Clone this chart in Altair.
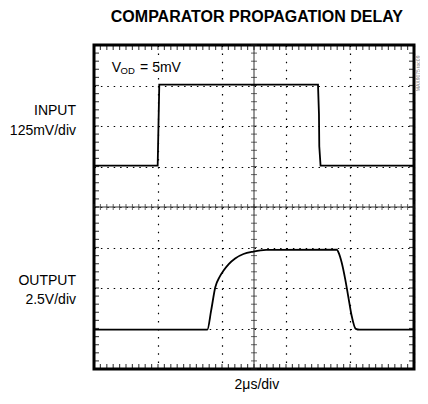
import altair as alt
import pandas as pd
import numpy as np

# ---- data (x in divisions 0..10, y in divisions 0..8) ----
input_x = [0.0, 1.99, 2.04, 7.0, 7.03, 7.04, 7.08, 10.0]
input_y = [5.02, 5.02, 7.02, 7.02, 6.3, 5.5, 5.02, 5.02]

output_x = [0.0, 3.54, 3.66, 3.79, 3.93, 4.05, 4.21, 4.41, 4.67, 4.98, 5.38, 7.59,
            7.64, 7.74, 7.85, 7.95, 8.05, 8.18, 8.30, 10.0]
output_y = [0.97, 0.97, 1.44, 2.02, 2.28, 2.43, 2.59, 2.73, 2.84, 2.90, 2.94, 2.95,
            2.88, 2.63, 2.22, 1.77, 1.32, 0.99, 0.97, 0.97]

major_x = list(range(0, 11))
major_y = list(range(0, 9))
minor_x = [round(v, 1) for v in np.arange(0, 10.01, 0.2)]
minor_y = [round(v, 1) for v in np.arange(0, 8.01, 0.2)]

left_labels = ["INPUT", "125mV/div", "OUTPUT", "2.5V/div"]
left_label_y = [6.38, 5.88, 2.17, 1.70]

title_text = "COMPARATOR PROPAGATION DELAY"
x_label = "2\u03bcs/div"
note_text = "MAX9075 toc09"

FONT = "Liberation Sans, Arial, Helvetica, sans-serif"

xs = alt.Scale(domain=[0, 10], nice=False, zero=False)
ys = alt.Scale(domain=[0, 8], nice=False, zero=False)

xaxis = alt.Axis(values=major_x, grid=True, gridDash=[1.5, 6.6], gridColor="#000",
                 gridWidth=1.2, domain=False, ticks=False, labels=False, title=None)
yaxis = alt.Axis(values=major_y, grid=True, gridDash=[1.5, 4.9], gridColor="#000",
                 gridWidth=1.2, domain=False, ticks=False, labels=False, title=None)

grid_df = pd.DataFrame({"x": [0, 10], "y": [0, 8]})
grid = alt.Chart(grid_df).mark_point(opacity=0).encode(
    x=alt.X("x:Q", scale=xs, axis=xaxis),
    y=alt.Y("y:Q", scale=ys, axis=yaxis),
)

center = alt.Chart(pd.DataFrame({"x": [5.0], "y": [4.0]}))
vcenter = center.mark_rule(color="#333", strokeWidth=1).encode(x=alt.X("x:Q", scale=xs))
hcenter = center.mark_rule(color="#333", strokeWidth=1).encode(y=alt.Y("y:Q", scale=ys))

mx = pd.DataFrame({"x": minor_x})
my = pd.DataFrame({"y": minor_y})

ctick_x = alt.Chart(mx).transform_calculate(y="4").mark_tick(
    orient="vertical", size=6, thickness=1, color="#222").encode(
    x=alt.X("x:Q", scale=xs), y=alt.Y("y:Q", scale=ys))
ctick_y = alt.Chart(my).transform_calculate(x="5").mark_tick(
    orient="horizontal", size=6, thickness=1, color="#222").encode(
    x=alt.X("x:Q", scale=xs), y=alt.Y("y:Q", scale=ys))

btick_bottom = alt.Chart(mx).transform_calculate(y="0").mark_tick(
    orient="vertical", size=10, thickness=1.2, color="#000", clip=True).encode(
    x=alt.X("x:Q", scale=xs), y=alt.Y("y:Q", scale=ys))
btick_top = alt.Chart(mx).transform_calculate(y="8").mark_tick(
    orient="vertical", size=10, thickness=1.2, color="#000", clip=True).encode(
    x=alt.X("x:Q", scale=xs), y=alt.Y("y:Q", scale=ys))
btick_left = alt.Chart(my).transform_calculate(x="0").mark_tick(
    orient="horizontal", size=10, thickness=1.2, color="#000", clip=True).encode(
    x=alt.X("x:Q", scale=xs), y=alt.Y("y:Q", scale=ys))
btick_right = alt.Chart(my).transform_calculate(x="10").mark_tick(
    orient="horizontal", size=10, thickness=1.2, color="#000", clip=True).encode(
    x=alt.X("x:Q", scale=xs), y=alt.Y("y:Q", scale=ys))

in_df = pd.DataFrame({"x": input_x, "y": input_y, "o": range(len(input_x))})
out_df = pd.DataFrame({"x": output_x, "y": output_y, "o": range(len(output_x))})

in_line = alt.Chart(in_df).mark_line(color="#000", strokeWidth=1.8, clip=True).encode(
    x=alt.X("x:Q", scale=xs), y=alt.Y("y:Q", scale=ys), order="o:Q")
out_line = alt.Chart(out_df).mark_line(color="#000", strokeWidth=1.8, clip=True,
                                       interpolate="monotone").encode(
    x=alt.X("x:Q", scale=xs), y=alt.Y("y:Q", scale=ys), order="o:Q")


def text_layer(df, **kw):
    return alt.Chart(df).mark_text(font=FONT, color="#000", **kw).encode(
        x=alt.X("x:Q", scale=xs), y=alt.Y("y:Q", scale=ys), text="t:N")


left_txt = text_layer(pd.DataFrame({"x": [-0.5625] * 4, "y": left_label_y, "t": left_labels}),
                      align="right", baseline="middle", fontSize=14)
title_txt = text_layer(pd.DataFrame({"x": [5.09], "y": [8.69], "t": [title_text]}),
                       align="center", baseline="middle", fontSize=16, fontWeight="bold")
xlab_txt = text_layer(pd.DataFrame({"x": [5.09], "y": [-0.40], "t": [x_label]}),
                      align="center", baseline="middle", fontSize=14)
v_txt = text_layer(pd.DataFrame({"x": [0.553], "y": [7.33], "t": ["V"]}),
                   align="left", baseline="alphabetic", fontSize=14)
od_txt = text_layer(pd.DataFrame({"x": [0.83], "y": [7.29], "t": ["OD"]}),
                    align="left", baseline="alphabetic", fontSize=9.5)
eq_txt = text_layer(pd.DataFrame({"x": [1.44], "y": [7.33], "t": ["= 5mV"]}),
                    align="left", baseline="alphabetic", fontSize=14)
note_txt = alt.Chart(pd.DataFrame({"x": [10.11], "y": [7.3], "t": [note_text]})).mark_text(
    font=FONT, color="#777", fontSize=5, angle=270, align="center", baseline="middle").encode(
    x=alt.X("x:Q", scale=xs), y=alt.Y("y:Q", scale=ys), text="t:N")

chart = alt.layer(
    grid, vcenter, hcenter, ctick_x, ctick_y,
    btick_bottom, btick_top, btick_left, btick_right,
    in_line, out_line,
    left_txt, title_txt, xlab_txt, v_txt, od_txt, eq_txt, note_txt,
).properties(
    width=320, height=324,
    padding={"left": 86, "top": 37, "right": 6, "bottom": 23},
    autosize=alt.AutoSizeParams(type="none"),
    background="white",
).configure_view(stroke="#000", strokeWidth=3)

chart.save("out.html", embed_options={"renderer": "svg", "actions": False})
